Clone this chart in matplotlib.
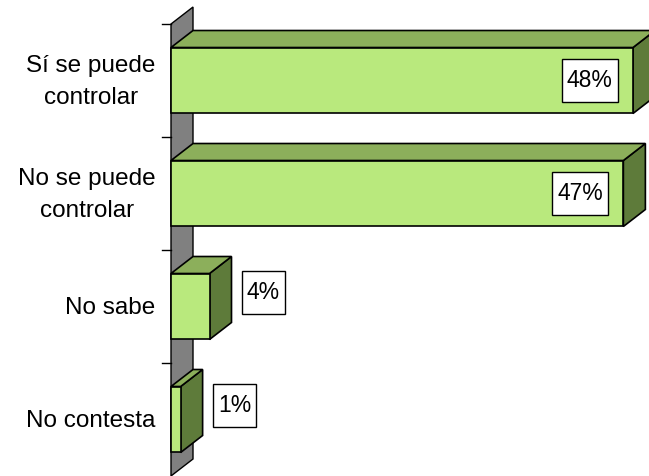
import matplotlib.pyplot as plt
from matplotlib.patches import Polygon, Rectangle

plt.rcParams["font.family"] = ["Liberation Sans", "DejaVu Sans"]

categorias = ["Sí se puede\ncontrolar", "No se puede\ncontrolar", "No sabe", "No contesta"]
valores = [48, 47, 4, 1]
etiquetas = ["48%", "47%", "4%", "1%"]

c_frente = "#B9E97D"
c_arriba = "#8CAF5B"
c_lado = "#5E7B3A"
c_pared = "#808080"

W, H = 649, 476
px_x = 9.625   # pixeles por 1%
px_y = 113.0   # pixeles por categoria
dx = 22 / px_x
dy = 17 / px_y

fig = plt.figure(figsize=(W / 100, H / 100), dpi=100)
ax = fig.add_axes([171 / W, 0, (W - 171) / W, (H - 24) / H])
ax.set_xlim(0, (W - 171) / px_x)
ax.set_ylim(0, 4)
ax.axis("off")

n = len(categorias)

# pared gris
ax.add_patch(Polygon([(0, 0), (0, n), (dx, n + dy), (dx, dy)], closed=True,
                     facecolor=c_pared, edgecolor="black", lw=1, clip_on=False, zorder=1))
# marcas del eje
for k in range(1, n + 1):
    ax.plot([-9 / px_x, 0], [k, k], color="black", lw=1, clip_on=False, zorder=1)

h = 0.584
textos = []
for i, (cat, v, lab) in enumerate(zip(categorias, valores, etiquetas)):
    c = n - 0.5 - i
    b, t = c - h / 2, c + h / 2
    kw = dict(closed=True, edgecolor="black", lw=1.2, clip_on=False, zorder=2)
    ax.add_patch(Polygon([(v, b), (v, t), (v + dx, t + dy), (v + dx, b + dy)], facecolor=c_lado, **kw))
    ax.add_patch(Polygon([(0, t), (v, t), (v + dx, t + dy), (dx, t + dy)], facecolor=c_arriba, **kw))
    ax.add_patch(Polygon([(0, b), (v, b), (v, t), (0, t)], facecolor=c_frente, **kw))

    ax.text(-1.6, c - 0.01, cat, ha="right", va="center", multialignment="center",
            fontsize=17.5, linespacing=1.6, clip_on=False)

    if v > 20:
        xl, yl = v - 4.5, c
    else:
        xl, yl = v + 5.6, c + 0.12
    textos.append(ax.text(xl, yl, lab, ha="center", va="center", fontsize=16.5,
                          zorder=5, clip_on=False))

# cajas blancas de las etiquetas
fig.canvas.draw()
inv = ax.transData.inverted()
for tx in textos:
    bb = tx.get_window_extent()
    cx, cy = (bb.x0 + bb.x1) / 2, (bb.y0 + bb.y1) / 2
    w, hh = bb.width + 10, 43
    (x0, y0) = inv.transform((cx - w / 2, cy - hh / 2))
    (x1, y1) = inv.transform((cx + w / 2, cy + hh / 2))
    ax.add_patch(Rectangle((x0, y0), x1 - x0, y1 - y0, facecolor="white",
                           edgecolor="black", lw=1, zorder=4, clip_on=False))

fig.savefig("out.png", dpi=100)
